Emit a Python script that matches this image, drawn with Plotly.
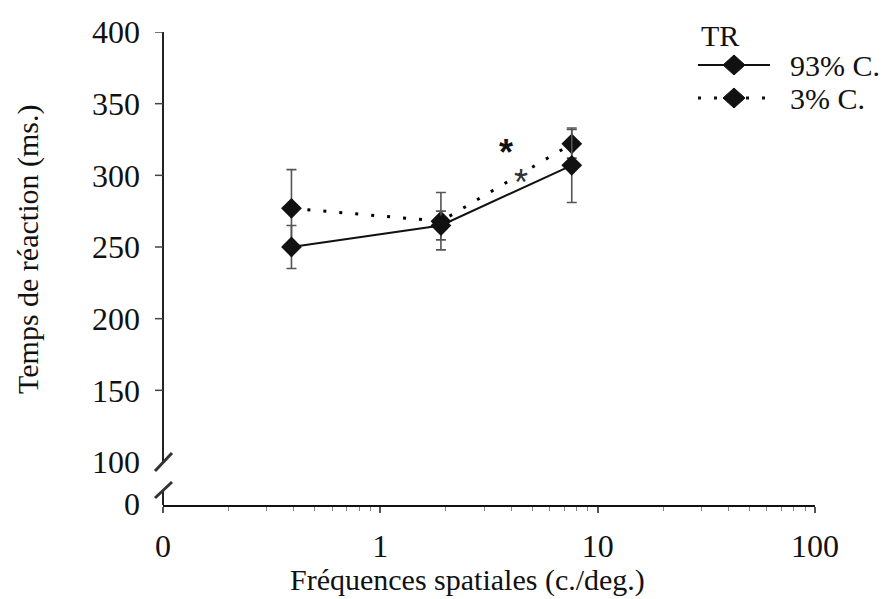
import plotly.graph_objects as go

# ---- data ----
freq = [0.39, 1.9, 7.6]                 # c./deg.
rt_93 = [250, 265, 307]                 # ms, 93% C.
err_93 = [15, 10, 26]
rt_3 = [277, 268, 322]                  # ms, 3% C.
err_3 = [27, 20, 10]
series_names = ["93% C.", "3% C."]
legend_title = "TR"
x_tickvals = [0.1, 1, 10, 100]
x_ticktext = ["0", "1", "10", "100"]
x_minor = [m * 10 ** e for e in (-1, 0, 1) for m in range(2, 10)]
y_tickvals = [71, 100, 150, 200, 250, 300, 350, 400]
y_ticktext = ["0", "100", "150", "200", "250", "300", "350", "400"]
y_marked_ticks = [150, 200, 250, 300, 350, 400]
star_pos = [(3.77, 316), (4.42, 295)]

FONT = "Liberation Serif, Times New Roman, serif"
FS_TICK = 32
FS_TXT = 30

# plot-area geometry in pixels
L, R, T, B = 163, 815, 32, 505
def px(x):
    return (x - L) / (R - L)
def py(y):
    return (B - y) / (B - T)

fig = go.Figure()

fig.add_trace(go.Scatter(
    x=freq, y=rt_3, name=series_names[1], mode="lines+markers",
    line=dict(color="black", width=3, dash="3px,13px"),
    marker=dict(symbol="diamond", size=16, color="#111"),
    error_y=dict(type="data", array=err_3, color="#555", thickness=1.6, width=5),
    showlegend=False))
fig.add_trace(go.Scatter(
    x=freq, y=rt_93, name=series_names[0], mode="lines+markers",
    line=dict(color="#111", width=2),
    marker=dict(symbol="diamond", size=16, color="#111"),
    error_y=dict(type="data", array=err_93, color="#555", thickness=1.6, width=5),
    showlegend=False))

shapes = []
# y axis line (broken)
shapes.append(dict(type="line", xref="paper", yref="y", x0=0, x1=0, y0=100, y1=400,
                   line=dict(color="#222", width=2)))
shapes.append(dict(type="line", xref="paper", yref="y", x0=0, x1=0, y0=70, y1=80.5,
                   line=dict(color="#222", width=2)))
# break slashes
for (x0, y0, x1, y1) in [(155, 471, 172, 453), (155, 498, 172, 482)]:
    shapes.append(dict(type="line", xref="paper", yref="paper",
                       x0=px(x0), y0=py(y0), x1=px(x1), y1=py(y1),
                       line=dict(color="#333", width=3)))
# y tick marks
for v in y_marked_ticks:
    shapes.append(dict(type="line", xref="paper", yref="y", x0=px(155), x1=0, y0=v, y1=v,
                       line=dict(color="#444", width=1.5)))

# manual legend
leg_x0, leg_x1, leg_cx = 698, 770, 734
leg_rows = [65, 98]
shapes.append(dict(type="line", xref="paper", yref="paper",
                   x0=px(leg_x0), x1=px(leg_x1), y0=py(leg_rows[0]), y1=py(leg_rows[0]),
                   line=dict(color="#111", width=2)))
shapes.append(dict(type="line", xref="paper", yref="paper",
                   x0=px(leg_x0), x1=px(leg_x1), y0=py(leg_rows[1]), y1=py(leg_rows[1]),
                   line=dict(color="#111", width=3, dash="3px,13px")))
for cy in leg_rows:
    cx = leg_cx
    path = "M {},{} L {},{} L {},{} L {},{} Z".format(
        px(cx - 11), py(cy), px(cx), py(cy - 10), px(cx + 11), py(cy), px(cx), py(cy + 10))
    shapes.append(dict(type="path", xref="paper", yref="paper", path=path,
                       fillcolor="#111", line=dict(color="#111", width=1)))

annotations = []
annotations.append(dict(text=legend_title, xref="paper", yref="paper", x=px(699), y=py(36),
                        xanchor="left", yanchor="middle", showarrow=False,
                        font=dict(family=FONT, size=FS_TXT, color="#111")))
for name, cy in zip(series_names, leg_rows):
    annotations.append(dict(text=name, xref="paper", yref="paper", x=px(788), y=py(cy),
                            xanchor="left", yanchor="middle", showarrow=False,
                            font=dict(family=FONT, size=FS_TXT, color="#111")))
# asterisks
annotations.append(dict(text="<b>*</b>", x=0.576, y=star_pos[0][1], xref="x", yref="y",
                        showarrow=False, font=dict(family="Liberation Sans, Arial", size=36, color="#111")))
annotations.append(dict(text="*", x=0.645, y=star_pos[1][1], xref="x", yref="y",
                        showarrow=False, font=dict(family="Liberation Sans, Arial", size=36, color="#333")))
# axis titles
annotations.append(dict(text="Fréquences spatiales (c./deg.)", xref="paper", yref="paper",
                        x=px(467), y=py(580), showarrow=False, xanchor="center", yanchor="middle",
                        font=dict(family=FONT, size=FS_TXT, color="#111")))
annotations.append(dict(text="Temps de réaction (ms.)", xref="paper", yref="paper",
                        x=px(28), y=py(250), showarrow=False, textangle=-90,
                        xanchor="center", yanchor="middle",
                        font=dict(family=FONT, size=FS_TXT, color="#111")))

fig.update_layout(
    width=887, height=599,
    margin=dict(l=L, r=887 - R, t=T, b=599 - B),
    paper_bgcolor="white", plot_bgcolor="white",
    font=dict(family=FONT, size=FS_TICK, color="#111"),
    showlegend=False,
    shapes=shapes, annotations=annotations,
    xaxis=dict(type="log", range=[-1, 2], showgrid=False, zeroline=False,
               showline=True, linecolor="#111", linewidth=2,
               ticks="outside", ticklen=6, tickwidth=1.5, tickcolor="#555",
               tickvals=x_tickvals, ticktext=x_ticktext, ticklabelstandoff=6,
               minor=dict(tickvals=x_minor, ticks="outside", ticklen=4, tickwidth=1, tickcolor="#888"),
               tickfont=dict(family=FONT, size=FS_TICK, color="#111")),
    yaxis=dict(range=[70, 400], showgrid=False, zeroline=False, showline=False,
               ticks="", tickvals=y_tickvals, ticktext=y_ticktext, ticklabelstandoff=22,
               tickfont=dict(family=FONT, size=FS_TICK, color="#111")),
)

fig.write_html("out.html")
